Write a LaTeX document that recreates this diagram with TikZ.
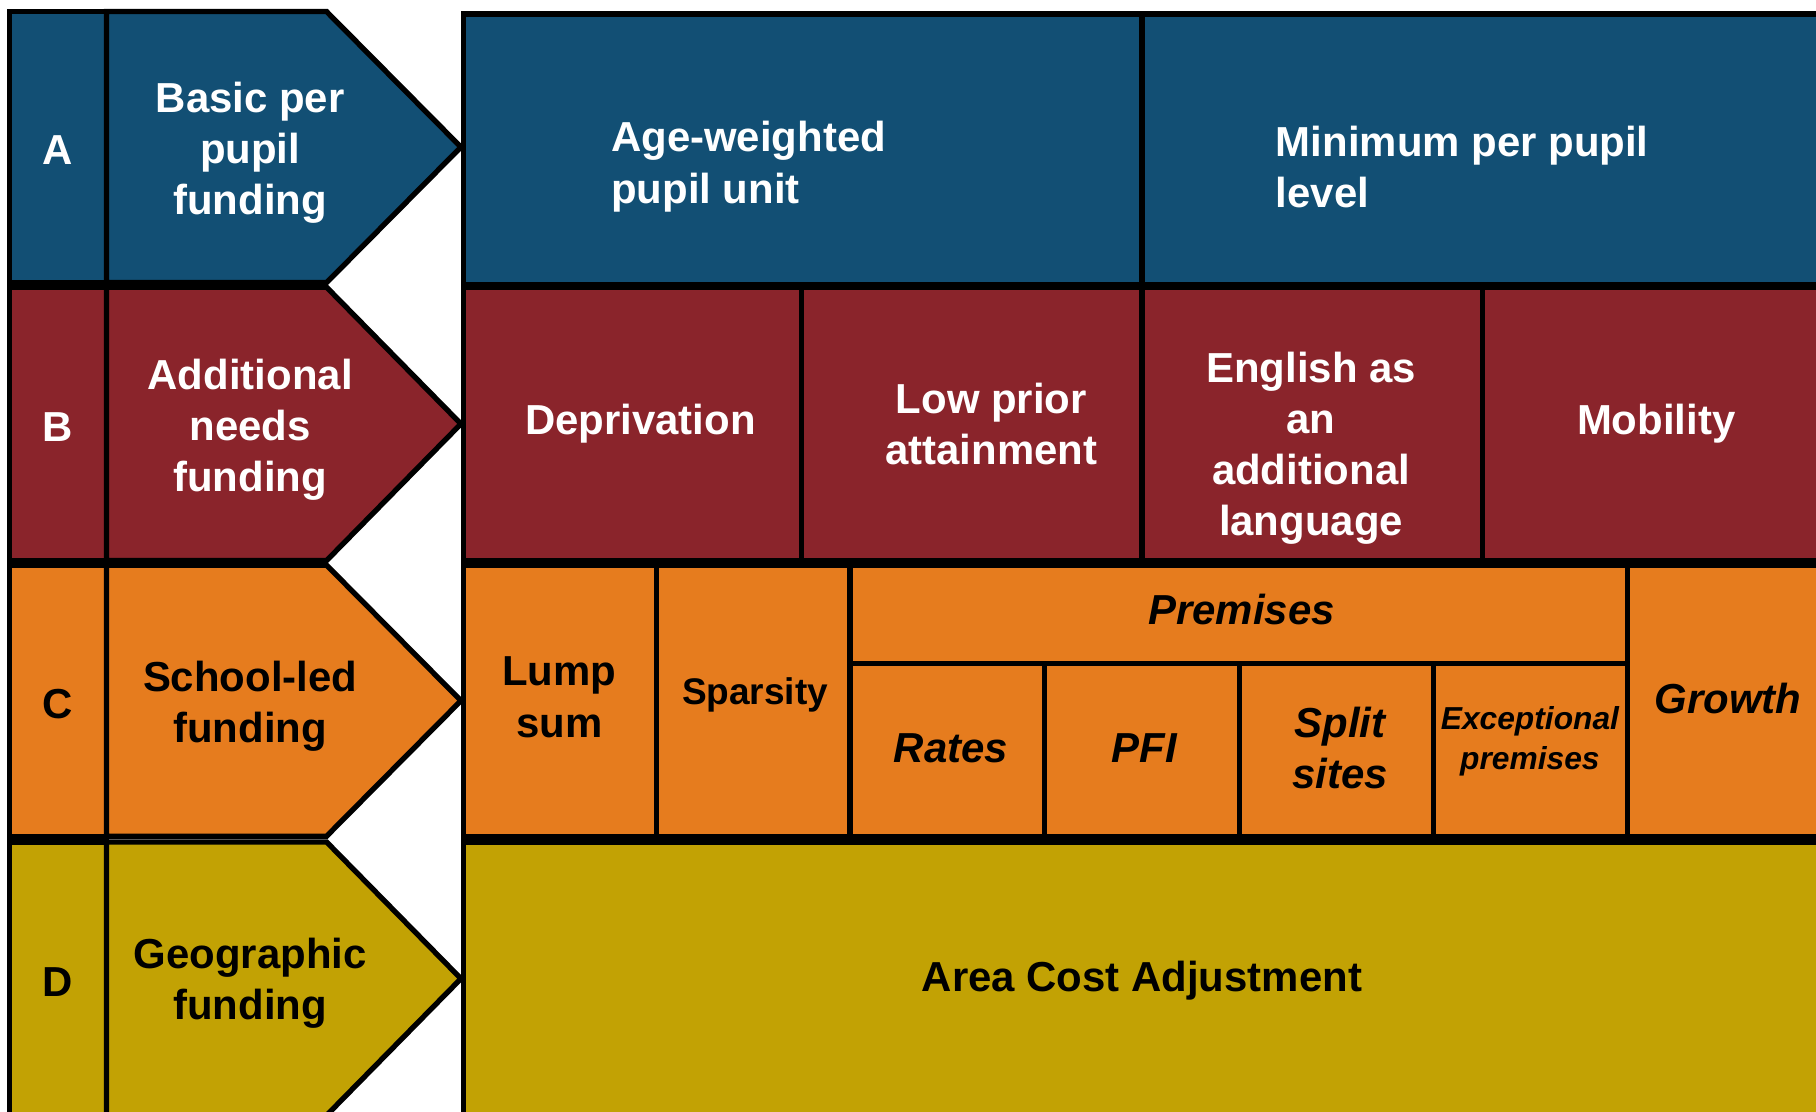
\documentclass[tikz,border=0pt]{standalone}
\usepackage{fontspec}
\setmainfont{Liberation Sans}
\usetikzlibrary{calc}
\definecolor{bandblue}{HTML}{124F74}
\definecolor{bandred}{HTML}{8A242B}
\definecolor{bandorange}{HTML}{E67C1E}
\definecolor{bandmustard}{HTML}{C2A204}

\begin{document}
\begin{tikzpicture}[x=0.1mm,y=-0.1mm,
	box/.style={draw=black,line width=1.3pt,line join=miter},
	lbl/.style={font=\bfseries\fontsize{10.3}{12.6}\selectfont,align=center,inner sep=0pt},
	ital/.style={lbl,font=\bfseries\itshape\fontsize{10.3}{12.6}\selectfont},
	small/.style={font=\bfseries\fontsize{9.1}{11}\selectfont,align=center,inner sep=0pt},
	tiny/.style={font=\bfseries\itshape\fontsize{7.8}{9.8}\selectfont,align=center,inner sep=0pt}]
	\useasboundingbox (0,0) rectangle (1568,960);
	\clip (0,0) rectangle (1568,960);
	
%	band A
	\filldraw[box,fill=bandblue] (8,10) rectangle (92,244);
	\filldraw[box,fill=bandblue] (92,10) -- (282,10) -- (398,127) -- (282,244) -- (92,244) -- cycle;
	\node[lbl,white] (ltrA) at (50,130) {A};
	\node[lbl,white] (basic) at (216,132) {Basic per\\pupil\\funding};
	\filldraw[box,fill=bandblue] (400,12) rectangle (986,246);
	\filldraw[box,fill=bandblue] (986,12) rectangle (1590,246);
	\node[lbl,white,align=left,anchor=west] (age) at (527,144) {Age-weighted\\pupil unit};
	\node[lbl,white,align=left,anchor=west] (minimum) at (1101,144) {Minimum per pupil\\level};
	
%	band B
	\filldraw[box,fill=bandred] (8,248) rectangle (92,484);
	\filldraw[box,fill=bandred] (92,248) -- (282,248) -- (398,366) -- (282,484) -- (92,484) -- cycle;
	\node[lbl,white] (ltrB) at (50,369) {B};
	\node[lbl,white] (additional) at (216,371) {Additional\\needs\\funding};
	\filldraw[box,fill=bandred] (400,248) rectangle (692,484);
	\filldraw[box,fill=bandred] (692,248) rectangle (986,484);
	\filldraw[box,fill=bandred] (986,248) rectangle (1280,484);
	\filldraw[box,fill=bandred] (1280,248) rectangle (1590,484);
	\node[lbl,white] (deprivation) at (553,366) {Deprivation};
	\node[lbl,white] (lowprior) at (856,366) {Low prior\\attainment};
	\node[lbl,white] (eal) at (1132,387) {English as\\an\\additional\\language};
	\node[lbl,white] (mobility) at (1430,366) {Mobility};
	
%	band C
	\filldraw[box,fill=bandorange] (8,488) rectangle (92,722);
	\filldraw[box,fill=bandorange] (92,488) -- (282,488) -- (398,605) -- (282,722) -- (92,722) -- cycle;
	\node[lbl] (ltrC) at (50,608) {C};
	\node[lbl] (schoolled) at (216,610) {School-led\\funding};
	\filldraw[box,fill=bandorange] (400,488) rectangle (567,722);
	\filldraw[box,fill=bandorange] (567,488) rectangle (734,722);
	\filldraw[box,fill=bandorange] (734,488) rectangle (1405,573);
	\filldraw[box,fill=bandorange] (734,573) rectangle (902,722);
	\filldraw[box,fill=bandorange] (902,573) rectangle (1070,722);
	\filldraw[box,fill=bandorange] (1070,573) rectangle (1238,722);
	\filldraw[box,fill=bandorange] (1238,573) rectangle (1405,722);
	\filldraw[box,fill=bandorange] (1405,488) rectangle (1590,722);
	\node[lbl] (lumpsum) at (483,602) {Lump\\sum};
	\node[small] (sparsity) at (652,600) {Sparsity};
	\node[ital] (premises) at (1072,526) {Premises};
	\node[ital] (rates) at (821,646) {Rates};
	\node[ital] (pfi) at (988,646) {PFI};
	\node[ital] (split) at (1157,646) {Split\\sites};
	\node[tiny] (exceptional) at (1321,640) {Exceptional\\premises};
	\node[ital] (growth) at (1492,603) {Growth};
	
%	band D
	\filldraw[box,fill=bandmustard] (8,727) rectangle (92,975);
	\filldraw[box,fill=bandmustard] (92,727) -- (282,727) -- (398,845) -- (282,963) -- (92,963) -- cycle;
	\node[lbl] (ltrD) at (50,848) {D};
	\node[lbl] (geographic) at (216,849) {Geographic\\funding};
	\filldraw[box,fill=bandmustard] (400,727) rectangle (1590,975);
	\node[lbl] (aca) at (986,847) {Area Cost Adjustment};
\end{tikzpicture}
\end{document}
